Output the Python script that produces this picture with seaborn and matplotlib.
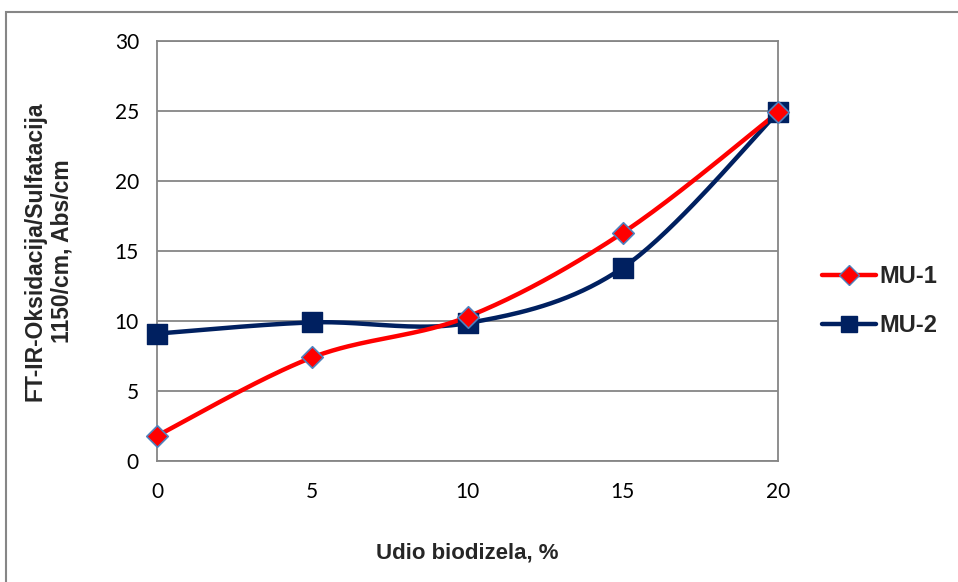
import numpy as np
import pandas as pd
import matplotlib
matplotlib.use("Agg")
import matplotlib.pyplot as plt
import seaborn as sns
from matplotlib.lines import Line2D
from matplotlib.patches import Rectangle

x_vals = [0, 5, 10, 15, 20]
mu1 = [1.8, 7.4, 10.3, 16.3, 24.9]
mu2 = [9.1, 9.9, 9.85, 13.8, 24.9]
series_names = ["MU-1", "MU-2"]
x_ticks = [0, 5, 10, 15, 20]
y_ticks = [0, 5, 10, 15, 20, 25, 30]

sns.set_theme(style="white")
plt.rcParams["font.family"] = ["Lato", "DejaVu Sans"]
BOLD = ["Liberation Sans", "DejaVu Sans"]

def smooth(xs, ys, n=40):
    pts = np.column_stack([xs, ys]).astype(float)
    P = np.vstack([pts[0], pts, pts[-1]])
    out = []
    for i in range(1, len(P) - 2):
        p0, p1, p2, p3 = P[i - 1], P[i], P[i + 1], P[i + 2]
        c1 = p1 + (p2 - p0) / 6.0
        c2 = p2 - (p3 - p1) / 6.0
        t = np.linspace(0, 1, n)[:, None]
        seg = ((1 - t) ** 3) * p1 + 3 * ((1 - t) ** 2) * t * c1 + 3 * (1 - t) * t ** 2 * c2 + t ** 3 * p2
        out.append(seg if i == 1 else seg[1:])
    out = np.vstack(out)
    return out[:, 0], out[:, 1]

fig = plt.figure(figsize=(9.58, 5.82), dpi=100)
ax = fig.add_axes([157 / 958, 1 - 461 / 582, (778 - 157) / 958, (461 - 41) / 582])

fig.patches.append(Rectangle((6 / 958, -0.1), 1.1, (582 - 12) / 582 + 0.1, transform=fig.transFigure,
                             fill=False, edgecolor="#868686", linewidth=1.5, zorder=0))

red = "#ff0000"
navy = "#002060"

sx, sy = smooth(x_vals, mu2)
d2 = pd.DataFrame({"x": sx, "y": sy})
sns.lineplot(data=d2, x="x", y="y", ax=ax, color=navy, linewidth=3.2, sort=False, estimator=None, zorder=3)
sx, sy = smooth(x_vals, mu1)
d1 = pd.DataFrame({"x": sx, "y": sy})
sns.lineplot(data=d1, x="x", y="y", ax=ax, color=red, linewidth=3.2, sort=False, estimator=None, zorder=4)

pts2 = pd.DataFrame({"x": x_vals, "y": mu2})
pts1 = pd.DataFrame({"x": x_vals, "y": mu1})
sns.scatterplot(data=pts2, x="x", y="y", ax=ax, marker="s", s=200, color=navy, edgecolor=navy, linewidth=1, zorder=5)
sns.scatterplot(data=pts1, x="x", y="y", ax=ax, marker="D", s=120, color=red, edgecolor="#4f81bd", linewidth=1.2, zorder=6)

ax.set_xlim(0, 20)
ax.set_ylim(0, 30)
ax.set_xticks(x_ticks)
ax.set_yticks(y_ticks)
ax.set_xticklabels([str(v) for v in x_ticks], fontsize=15)
ax.set_yticklabels([str(v) for v in y_ticks], fontsize=15)
ax.yaxis.grid(True, color="#868686", linewidth=1.3)
ax.xaxis.grid(False)
for s in ax.spines.values():
    s.set_color("#868686")
    s.set_linewidth(1.3)
    s.set_visible(True)
ax.tick_params(axis="both", direction="out", length=7, width=1.3, color="#868686", labelcolor="black")
ax.tick_params(axis="x", pad=8)
ax.tick_params(axis="y", pad=6)
ax.set_xlabel("Udio biodizela, %", fontsize=16, fontweight="bold", family=BOLD, labelpad=29)
ax.set_ylabel("FT-IR-Oksidacija/Sulfatacija\n1150/cm, Abs/cm", fontsize=16.5, fontweight="bold", family=BOLD,
              labelpad=30, linespacing=1.2)
for coll in ax.collections:
    coll.set_clip_on(False)
for ln in ax.lines:
    ln.set_clip_on(False)

handles = [
    Line2D([0], [0], color=red, linewidth=3.2, marker="D", markersize=10, markerfacecolor=red, markeredgecolor="#4f81bd"),
    Line2D([0], [0], color=navy, linewidth=3.2, marker="s", markersize=11, markerfacecolor=navy, markeredgecolor=navy),
]
leg = fig.legend(handles, series_names, loc="center left", bbox_to_anchor=(822 / 958, 1 - 301 / 582),
                 frameon=False, prop={"weight": "bold", "size": 17, "family": BOLD},
                 handlelength=2.3, labelspacing=1.1, handletextpad=0.15, borderpad=0, borderaxespad=0)

fig.savefig("out.png", dpi=100)
